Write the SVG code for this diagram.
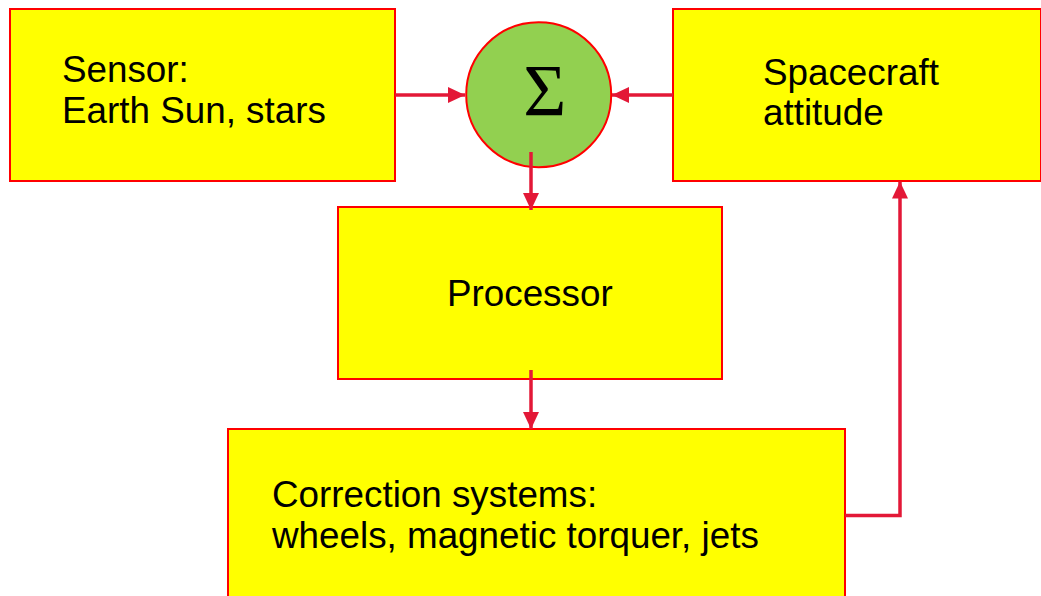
<svg xmlns="http://www.w3.org/2000/svg" width="1041" height="596" viewBox="0 0 1041 596">
<defs>
<style>
.box{fill:#FFFF00;stroke:#FF0000;stroke-width:2}
.t{font-family:"Liberation Sans",Arial,sans-serif;font-size:36.8px;fill:#000}
.c{fill:none;stroke:#E31837;stroke-width:3.5}
</style>
<marker id="ah" viewBox="0 0 17 16" refX="17" refY="8" markerWidth="17" markerHeight="16" markerUnits="userSpaceOnUse" orient="auto">
<path d="M0,0 L17,8 L0,16 Z" fill="#E31837"/>
</marker>
</defs>
<rect width="1041" height="596" fill="#FFFFFF"/>
<g id="sensor">
<rect class="box" x="10" y="9" width="385" height="172"/>
<text class="t" x="62" y="82">Sensor:</text>
<text class="t" x="62" y="123">Earth Sun, stars</text>
</g>
<g id="spacecraft">
<rect class="box" x="673" y="9" width="368" height="172"/>
<text class="t" x="763" y="85">Spacecraft</text>
<text class="t" x="763" y="125">attitude</text>
</g>
<g id="processor">
<rect class="box" x="338" y="207" width="384" height="172"/>
<text class="t" x="447" y="306">Processor</text>
</g>
<g id="correction">
<rect class="box" x="228" y="429" width="617" height="180"/>
<text class="t" x="272" y="507">Correction systems:</text>
<text class="t" x="272" y="548">wheels, magnetic torquer, jets</text>
</g>
<g id="sum">
<circle cx="538.7" cy="94.7" r="72.5" fill="#92D050" stroke="#FF0000" stroke-width="2"/>
<text x="544.7" y="115.5" text-anchor="middle" font-family="'Liberation Serif','DejaVu Serif',serif" font-size="74" fill="#000">Σ</text>
</g>
<g id="connectors">
<path class="c" d="M395,95 H465" marker-end="url(#ah)"/>
<path class="c" d="M673,95 H612" marker-end="url(#ah)"/>
<path class="c" d="M531,152 V210" marker-end="url(#ah)"/>
<path class="c" d="M531,370 V429" marker-end="url(#ah)"/>
<path class="c" d="M845,515.5 H900 V181.5" marker-end="url(#ah)"/>
</g>
</svg>
